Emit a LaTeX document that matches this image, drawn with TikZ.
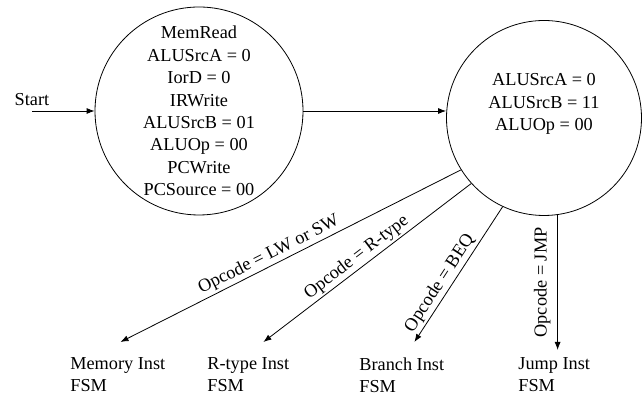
\documentclass[tikz,border=0pt]{standalone}
\usepackage{fontspec}
\setmainfont{Liberation Serif}
\usetikzlibrary{arrows.meta}

\begin{document}
\begin{tikzpicture}[x=0.75pt,y=0.75pt,line width=0.6pt,
  font=\fontsize{13.7}{16.8}\selectfont,
  >={Latex[length=6pt,width=4.5pt]},
  fsmstate/.style={draw,circle,inner sep=0pt,align=center},
  fsmout/.style={inner sep=0pt,anchor=north west,align=left},
  cond/.style={inner sep=1.5pt}]
\useasboundingbox (0,0) rectangle (644,395);
\coordinate (startpt) at (32,284);
\node[above] (start) at (startpt) {Start};
\node[fsmstate,minimum size=156pt] (fetch) at (199,284) {MemRead\\ALUSrcA = 0\\IorD = 0\\IRWrite\\ALUSrcB = 01\\ALUOp = 00\\PCWrite\\PCSource = 00};
\node[fsmstate,minimum size=146.25pt] (decode) at (544,277) {};
\node[align=center] (decodetxt) at ([yshift=10.5pt]decode.center) {ALUSrcA = 0\\ALUSrcB = 11\\ALUOp = 00};
\node[fsmout] (memfsm) at (70,38) {Memory Inst\\FSM};
\node[fsmout] (rtypefsm) at (207,38) {R-type Inst\\FSM};
\node[fsmout] (branchfsm) at (359,38) {Branch Inst\\FSM};
\node[fsmout] (jumpfsm) at (518,38) {Jump Inst\\FSM};
\draw[->] (startpt) -- (fetch.west);
\draw[->] (fetch.east) -- (fetch.east -| decode.west);
\draw[->] (decode.212) -- ([xshift=2pt,yshift=11.25pt]memfsm.north)
  node[cond,pos=0.55,above,sloped] {Opcode = LW or SW};
\draw[->] (decode.222.5) -- ([xshift=11.4pt,yshift=11.25pt]rtypefsm.north)
  node[cond,pos=0.52,above,sloped] {Opcode = R-type};
\draw[->] (decode.245.7) -- ([xshift=9.5pt,yshift=11.25pt]branchfsm.north)
  node[cond,pos=0.61,above,sloped] {Opcode = BEQ};
\draw[->] (decode.278) -- ([yshift=5.25pt]decode.278 |- jumpfsm.north)
  node[cond,pos=0.5,anchor=south,rotate=90,inner sep=5pt] {Opcode = JMP};
\end{tikzpicture}
\end{document}
